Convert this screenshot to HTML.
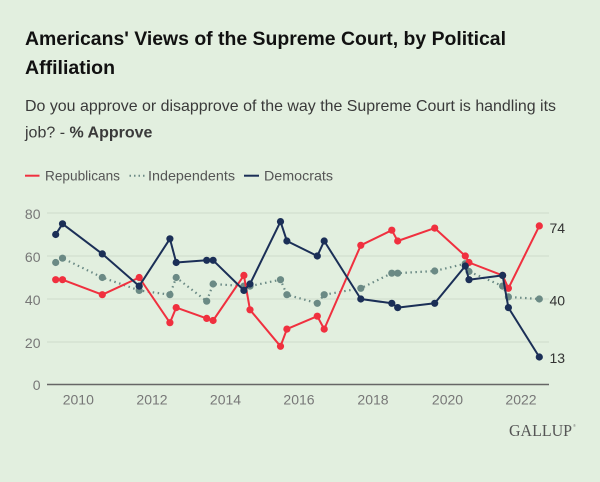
<!DOCTYPE html>
<html><head><meta charset="utf-8"><style>
html,body{margin:0;padding:0;background:#e2efdf;}
svg{display:block;}
text{font-family:"Liberation Sans",sans-serif;}
</style></head><body>
<svg width="600" height="482" viewBox="0 0 600 482" xmlns="http://www.w3.org/2000/svg">
<rect width="600" height="482" fill="#e2efdf"/>
<text x="25" y="45" font-size="19.5" font-weight="bold" fill="#111" textLength="481" lengthAdjust="spacingAndGlyphs">Americans' Views of the Supreme Court, by Political</text>
<text x="25" y="74" font-size="19.5" font-weight="bold" fill="#111" textLength="90" lengthAdjust="spacingAndGlyphs">Affiliation</text>
<text x="25" y="111" font-size="16" fill="#3a3a3a" textLength="531" lengthAdjust="spacingAndGlyphs">Do you approve or disapprove of the way the Supreme Court is handling its</text>
<text x="25" y="137.5" font-size="16" fill="#3a3a3a">job? - <tspan font-weight="bold">% Approve</tspan></text>
<line x1="25" y1="175.7" x2="39.5" y2="175.7" stroke="#f0303f" stroke-width="2"/>
<text x="45" y="180.5" font-size="14" fill="#555" textLength="75" lengthAdjust="spacingAndGlyphs">Republicans</text>
<line x1="129.5" y1="175.7" x2="144.5" y2="175.7" stroke="#6b8a85" stroke-width="2" stroke-dasharray="1.5,3"/>
<text x="148" y="180.5" font-size="14" fill="#555" textLength="87" lengthAdjust="spacingAndGlyphs">Independents</text>
<line x1="244" y1="175.7" x2="259" y2="175.7" stroke="#1b2f57" stroke-width="2"/>
<text x="264" y="180.5" font-size="14" fill="#555" textLength="69" lengthAdjust="spacingAndGlyphs">Democrats</text>
<g stroke="#d2dfcf" stroke-width="1.2">
<line x1="47" y1="213" x2="549" y2="213"/>
<line x1="47" y1="256" x2="549" y2="256"/>
<line x1="47" y1="299" x2="549" y2="299"/>
<line x1="47" y1="342" x2="549" y2="342"/>
</g>
<line x1="47" y1="384.5" x2="549" y2="384.5" stroke="#666" stroke-width="1.5"/>
<g font-size="14" fill="#777" text-anchor="end">
<text x="40.5" y="219">80</text>
<text x="40.5" y="262">60</text>
<text x="40.5" y="305">40</text>
<text x="40.5" y="348">20</text>
<text x="40.5" y="390">0</text>
</g>
<g font-size="14" fill="#777" text-anchor="middle">
<text x="78.3" y="404.5">2010</text>
<text x="152" y="404.5">2012</text>
<text x="225.5" y="404.5">2014</text>
<text x="299" y="404.5">2016</text>
<text x="373" y="404.5">2018</text>
<text x="447.5" y="404.5">2020</text>
<text x="521" y="404.5">2022</text>
</g>
<g font-size="14" fill="#333">
<text x="549.5" y="233">74</text>
<text x="549.5" y="305.5">40</text>
<text x="549.5" y="363">13</text>
</g>
<text x="509" y="436" style="font-family:'Liberation Serif',serif" font-size="16.5" fill="#555" textLength="63" lengthAdjust="spacingAndGlyphs">GALLUP</text>
<text x="573" y="427" font-size="4" fill="#777">®</text>
<polyline fill="none" stroke="#6b8a85" stroke-width="2.2" stroke-dasharray="1.5,3.5" stroke-linejoin="round" points="55.7,262.5 62.5,258.2 102.3,277.5 139.2,290.4 169.9,294.7 176.2,277.5 206.7,301.2 213.1,284 243.9,286.1 250,286.1 280.5,279.7 286.9,294.7 317.3,303.3 324.2,294.7 360.8,288.3 391.8,273.2 397.7,273.2 434.7,271 465.3,263.7 469,271.5 502.6,286.1 508.4,296.9 539.3,299"/>
<g fill="#6b8a85">
<circle cx="55.7" cy="262.5" r="3.6"/><circle cx="62.5" cy="258.2" r="3.6"/><circle cx="102.3" cy="277.5" r="3.6"/><circle cx="139.2" cy="290.4" r="3.6"/><circle cx="169.9" cy="294.7" r="3.6"/><circle cx="176.2" cy="277.5" r="3.6"/><circle cx="206.7" cy="301.2" r="3.6"/><circle cx="213.1" cy="284" r="3.6"/><circle cx="243.9" cy="286.1" r="3.6"/><circle cx="250" cy="286.1" r="3.6"/><circle cx="280.5" cy="279.7" r="3.6"/><circle cx="286.9" cy="294.7" r="3.6"/><circle cx="317.3" cy="303.3" r="3.6"/><circle cx="324.2" cy="294.7" r="3.6"/><circle cx="360.8" cy="288.3" r="3.6"/><circle cx="391.8" cy="273.2" r="3.6"/><circle cx="397.7" cy="273.2" r="3.6"/><circle cx="434.7" cy="271" r="3.6"/><circle cx="465.3" cy="263.7" r="3.6"/><circle cx="469" cy="271.5" r="3.6"/><circle cx="502.6" cy="286.1" r="3.6"/><circle cx="508.4" cy="296.9" r="3.6"/><circle cx="539.3" cy="299" r="3.6"/>
</g>
<polyline fill="none" stroke="#f0303f" stroke-width="2" stroke-linejoin="round" points="55.7,279.7 62.5,279.7 102.3,294.7 139.2,277.5 169.9,322.7 176.2,307.6 206.7,318.4 213.1,320.5 243.9,275.4 250,309.8 280.5,346.3 286.9,329.1 317.3,316.2 324.2,329.1 360.8,245.3 391.8,230.2 397.7,241 434.7,228.1 465.3,256 469,262.5 502.6,275.4 508.4,288.3 539.3,225.9"/>
<g fill="#f0303f">
<circle cx="55.7" cy="279.7" r="3.6"/><circle cx="62.5" cy="279.7" r="3.6"/><circle cx="102.3" cy="294.7" r="3.6"/><circle cx="139.2" cy="277.5" r="3.6"/><circle cx="169.9" cy="322.7" r="3.6"/><circle cx="176.2" cy="307.6" r="3.6"/><circle cx="206.7" cy="318.4" r="3.6"/><circle cx="213.1" cy="320.5" r="3.6"/><circle cx="243.9" cy="275.4" r="3.6"/><circle cx="250" cy="309.8" r="3.6"/><circle cx="280.5" cy="346.3" r="3.6"/><circle cx="286.9" cy="329.1" r="3.6"/><circle cx="317.3" cy="316.2" r="3.6"/><circle cx="324.2" cy="329.1" r="3.6"/><circle cx="360.8" cy="245.3" r="3.6"/><circle cx="391.8" cy="230.2" r="3.6"/><circle cx="397.7" cy="241" r="3.6"/><circle cx="434.7" cy="228.1" r="3.6"/><circle cx="465.3" cy="256" r="3.6"/><circle cx="469" cy="262.5" r="3.6"/><circle cx="502.6" cy="275.4" r="3.6"/><circle cx="508.4" cy="288.3" r="3.6"/><circle cx="539.3" cy="225.9" r="3.6"/>
</g>
<polyline fill="none" stroke="#1b2f57" stroke-width="2" stroke-linejoin="round" points="55.7,234.5 62.5,223.8 102.3,253.9 139.2,286.1 169.9,238.8 176.2,262.5 206.7,260.3 213.1,260.3 243.9,290.4 250,284 280.5,221.6 286.9,241 317.3,256 324.2,241 360.8,299 391.8,303.3 397.7,307.6 434.7,303.3 465.3,266 469,279.7 502.6,275.4 508.4,307.6 539.3,357"/>
<g fill="#1b2f57">
<circle cx="55.7" cy="234.5" r="3.6"/><circle cx="62.5" cy="223.8" r="3.6"/><circle cx="102.3" cy="253.9" r="3.6"/><circle cx="139.2" cy="286.1" r="3.6"/><circle cx="169.9" cy="238.8" r="3.6"/><circle cx="176.2" cy="262.5" r="3.6"/><circle cx="206.7" cy="260.3" r="3.6"/><circle cx="213.1" cy="260.3" r="3.6"/><circle cx="243.9" cy="290.4" r="3.6"/><circle cx="250" cy="284" r="3.6"/><circle cx="280.5" cy="221.6" r="3.6"/><circle cx="286.9" cy="241" r="3.6"/><circle cx="317.3" cy="256" r="3.6"/><circle cx="324.2" cy="241" r="3.6"/><circle cx="360.8" cy="299" r="3.6"/><circle cx="391.8" cy="303.3" r="3.6"/><circle cx="397.7" cy="307.6" r="3.6"/><circle cx="434.7" cy="303.3" r="3.6"/><circle cx="465.3" cy="266" r="3.6"/><circle cx="469" cy="279.7" r="3.6"/><circle cx="502.6" cy="275.4" r="3.6"/><circle cx="508.4" cy="307.6" r="3.6"/><circle cx="539.3" cy="357" r="3.6"/>
</g>
</svg>
</body></html>
